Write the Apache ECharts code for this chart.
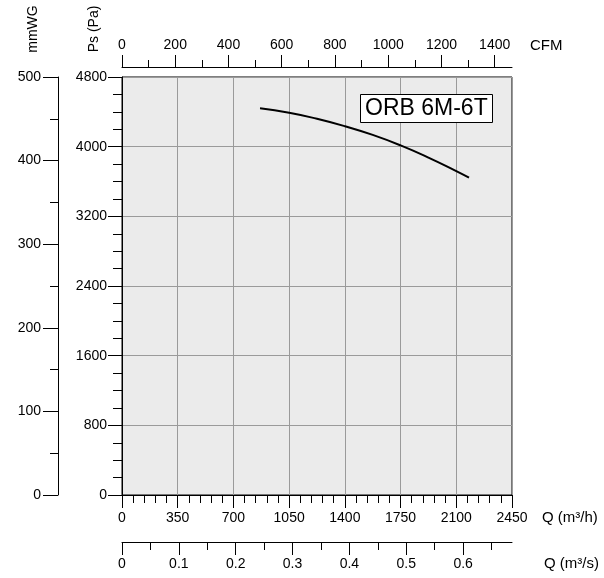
<!DOCTYPE html>
<html>
<head>
<meta charset="utf-8">
<script src="https://cdn.jsdelivr.net/npm/echarts@6/dist/echarts.min.js"></script>
<style>
  html, body { margin: 0; padding: 0; background: #fff; }
  #fan { width: 604px; height: 578px; }
</style>
</head>
<body>
<div id="fan"></div>
<script>
// fan curve
const flowM3h = [867, 1050, 1225, 1400, 1575, 1750, 1925, 2100, 2180];
const pressurePa = [4440, 4390, 4320, 4235, 4135, 4015, 3875, 3720, 3645];

// secondary scales
const cfmMax = 1465;
const cfmTicks = [0, 200, 400, 600, 800, 1000, 1200, 1400];
const cfmMinor = [100, 300, 500, 700, 900, 1100, 1300];
const m3sMax = 0.686;
const m3sTicks = [0, 0.1, 0.2, 0.3, 0.4, 0.5, 0.6];
const m3sMinor = [0.05, 0.15, 0.25, 0.35, 0.45, 0.55, 0.65];

const font = "Arial, 'Liberation Sans', sans-serif";
const black = "#000";
const plain = v => String(v);
const lbl = { color: black, fontSize: 14, fontFamily: font, formatter: plain };
const nameStyle = { color: black, fontSize: 15, fontFamily: font };
const line = { show: true, onZero: false, lineStyle: { color: black, width: 1 } };

const chart = echarts.init(document.getElementById("fan"), null, { renderer: "canvas" });

const option = {
  animation: false,
  title: {
    text: "ORB 6M-6T",
    left: 360,
    top: 94,
    padding: [3, 5, 3, 5],
    backgroundColor: "#fff",
    borderColor: black,
    borderWidth: 1,
    textStyle: { color: black, fontSize: 23, fontWeight: "normal", fontFamily: font }
  },
  grid: {
    left: 122,
    right: 92,
    top: 77,
    bottom: 83,
    show: true,
    backgroundColor: "#ebebeb",
    borderColor: black,
    borderWidth: 1
  },
  graphic: [
    {
      type: "text",
      x: 33,
      y: 29,
      rotation: Math.PI / 2,
      style: { text: "mmWG", align: "center", verticalAlign: "middle", fill: black, font: "14px " + font }
    },
    {
      type: "text",
      x: 94,
      y: 29,
      rotation: Math.PI / 2,
      style: { text: "Ps (Pa)", align: "center", verticalAlign: "middle", fill: black, font: "14px " + font }
    }
  ],
  xAxis: [
    {
      type: "value",
      position: "bottom",
      min: 0,
      max: 2450,
      interval: 350,
      name: "Q (m³/h)",
      nameLocation: "end",
      nameGap: 30,
      nameTextStyle: Object.assign({ verticalAlign: "top", padding: [15, 0, 0, 0] }, nameStyle),
      axisLine: line,
      axisTick: { show: true, length: 13, lineStyle: { color: black } },
      minorTick: { show: true, splitNumber: 5, length: 8, lineStyle: { color: black } },
      axisLabel: Object.assign({ margin: 16 }, lbl),
      splitLine: { show: true, lineStyle: { color: "#9a9a9a", width: 1 } }
    },
    {
      type: "value",
      position: "top",
      offset: 10,
      min: 0,
      max: cfmMax,
      name: "CFM",
      nameLocation: "end",
      nameGap: 18,
      nameTextStyle: Object.assign({ verticalAlign: "bottom", padding: [0, 0, 14, 0] }, nameStyle),
      axisLine: line,
      axisTick: { show: true, length: 12, customValues: cfmTicks, lineStyle: { color: black } },
      axisLabel: Object.assign({ margin: 15, customValues: cfmTicks }, lbl),
      splitLine: { show: false }
    },
    {
      type: "value",
      position: "top",
      offset: 10,
      min: 0,
      max: cfmMax,
      axisLine: { show: false, onZero: false },
      axisTick: { show: true, length: 7, customValues: cfmMinor, lineStyle: { color: black } },
      axisLabel: { show: false },
      splitLine: { show: false }
    },
    {
      type: "value",
      position: "bottom",
      offset: 47,
      min: 0,
      max: m3sMax,
      name: "Q (m³/s)",
      nameLocation: "end",
      nameGap: 32,
      nameTextStyle: Object.assign({ verticalAlign: "top", padding: [14, 0, 0, 0] }, nameStyle),
      axisLine: line,
      axisTick: { show: true, length: 13, customValues: m3sTicks, lineStyle: { color: black } },
      axisLabel: Object.assign({ margin: 15, customValues: m3sTicks }, lbl),
      splitLine: { show: false }
    },
    {
      type: "value",
      position: "bottom",
      offset: 47,
      min: 0,
      max: m3sMax,
      axisLine: { show: false, onZero: false },
      axisTick: { show: true, length: 8, customValues: m3sMinor, lineStyle: { color: black } },
      axisLabel: { show: false },
      splitLine: { show: false }
    }
  ],
  yAxis: [
    {
      type: "value",
      position: "left",
      min: 0,
      max: 4800,
      interval: 800,
      axisLine: line,
      axisTick: { show: true, length: 14, lineStyle: { color: black } },
      minorTick: { show: true, splitNumber: 4, length: 9, lineStyle: { color: black } },
      axisLabel: Object.assign({ margin: 15 }, lbl),
      splitLine: { show: true, lineStyle: { color: "#9a9a9a", width: 1 } }
    },
    {
      type: "value",
      position: "left",
      offset: 64,
      min: 0,
      max: 500,
      interval: 100,
      axisLine: line,
      axisTick: { show: true, length: 15, lineStyle: { color: black } },
      minorTick: { show: true, splitNumber: 2, length: 8, lineStyle: { color: black } },
      axisLabel: Object.assign({ margin: 17 }, lbl),
      splitLine: { show: false }
    }
  ],
  series: [
    {
      name: "ORB 6M-6T",
      type: "line",
      xAxisIndex: 0,
      yAxisIndex: 0,
      smooth: true,
      showSymbol: false,
      lineStyle: { color: black, width: 2 },
      data: flowM3h.map((q, i) => [q, pressurePa[i]])
    }
  ]
};

chart.setOption(option, true);
</script>
</body>
</html>
